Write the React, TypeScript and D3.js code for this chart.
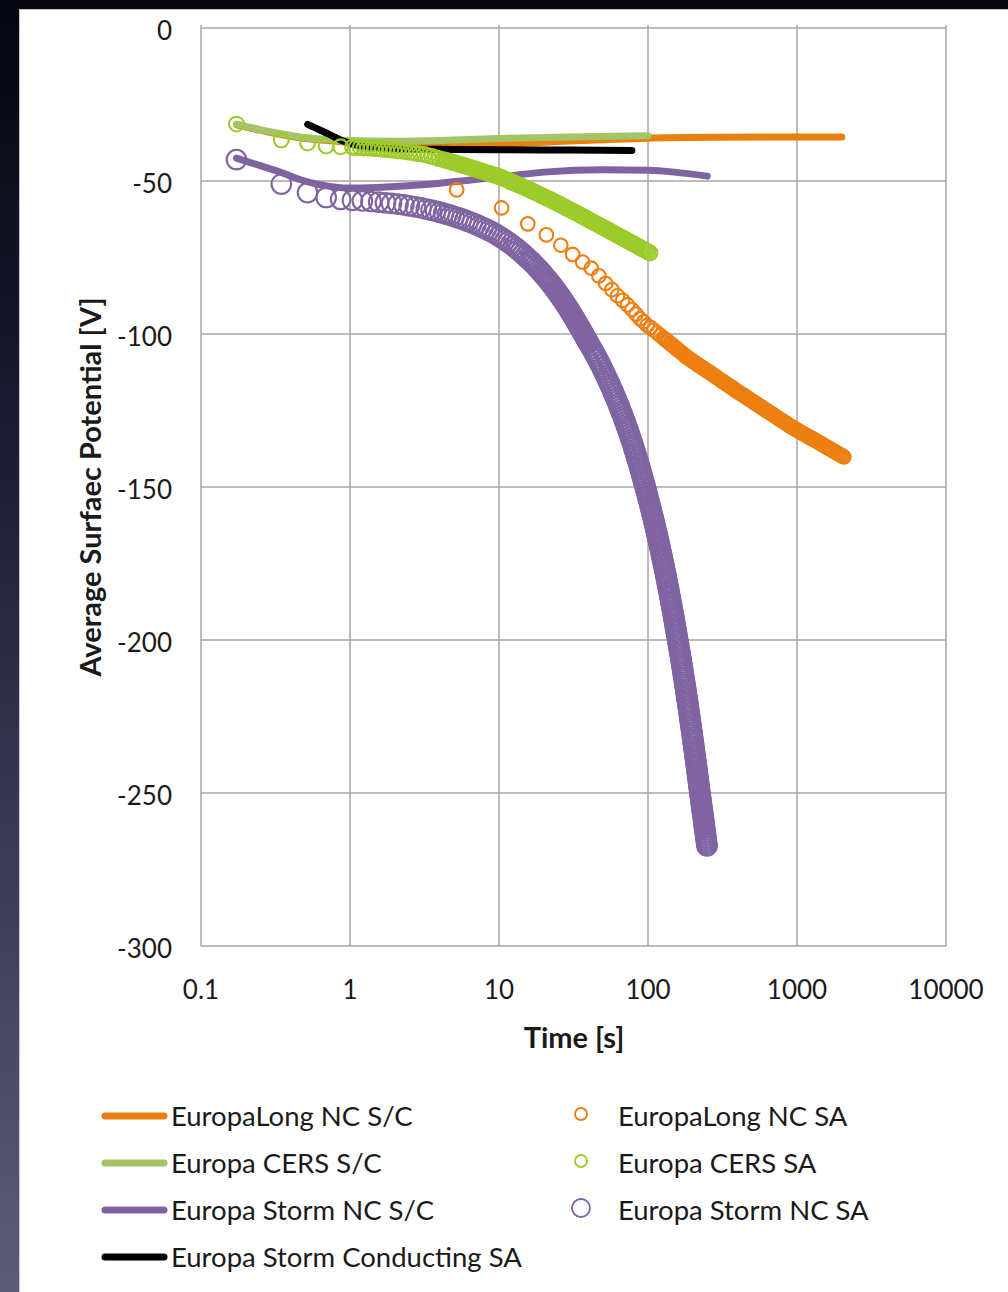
import React from 'react';
import * as d3 from 'd3';

type P = [number, number];

// ---------- axes ----------
const xTickValues = [0.1, 1, 10, 100, 1000, 10000];
const xTickLabels = ['0.1', '1', '10', '100', '1000', '10000'];
const yTickValues = [0, -50, -100, -150, -200, -250, -300];
const xTitle = 'Time [s]';
const yTitle = 'Average Surfaec Potential [V]';

// ---------- S/C lines ----------
const europaLongSC: P[] = [
  [0.173, -31.6], [0.25, -33.4], [0.35, -34.9], [0.46, -35.9], [0.7, -36.8], [1, -37.4], [2, -38],
  [4, -38.2], [7, -38.1], [10, -37.9], [20, -37.3], [50, -36.5], [100, -36], [300, -35.7],
  [1000, -35.6], [2000, -35.6],
];
const europaCersSC: P[] = [
  [0.173, -31.4], [0.25, -33.2], [0.35, -34.6], [0.46, -35.6], [0.7, -36.4], [1, -36.8],
  [2, -37], [5, -36.6], [10, -36.1], [30, -35.6], [100, -35.2],
];
const europaStormSC: P[] = [
  [0.173, -42.5], [0.25, -45], [0.35, -47.3], [0.46, -49.5], [0.6, -51], [0.8, -52], [1, -52.3],
  [2, -51.8], [4, -50.7], [10, -48.7], [20, -47.1], [50, -46.3], [100, -46.5], [150, -47.1], [250, -48.4],
];
const europaStormConductingSA: P[] = [
  [0.52, -31.5], [0.7, -34.4], [0.9, -36.9], [1.1, -38.3], [1.5, -39.2], [2, -39.5], [5, -39.7],
  [10, -39.8], [30, -39.9], [78, -40],
];

// ---------- SA markers ----------
const europaLongSA: P[] = [
  [5.2, -52.9], [10.4, -58.8], [15.6, -64], [20.8, -67.6], [26, -71], [31.2, -74], [36.4, -76.5],
  [41.6, -78.5], [46.8, -81], [52, -83.5], [57.2, -85.5], [62.4, -87.5], [67.6, -89], [72.8, -90.5],
  [78, -92], [83.2, -93.5], [88.4, -95], [93.6, -96], [98.8, -97.2], [104, -97.9], [109, -98.7],
  [115, -99.6], [121, -100.5], [127, -101.3], [130, -101.7], [133, -102.1], [136.5, -102.55], [140, -103],
  [143.5, -103.4], [147, -103.8], [150.5, -104.2], [154, -104.6], [158, -105.05], [162, -105.5],
  [166, -105.9], [170, -106.3], [174.5, -106.8], [179, -107.3], [183.5, -107.65], [188, -108],
  [192.5, -108.35], [197, -108.7], [202, -109.05], [207, -109.4], [212, -109.75], [217, -110.1],
  [222.5, -110.45], [228, -110.8], [234, -111.15], [240, -111.5], [246, -111.85], [252, -112.2],
  [258.5, -112.55], [265, -112.9], [271.5, -113.25], [278, -113.6], [285, -113.95], [292, -114.3],
  [299.5, -114.7], [307, -115.1], [314.5, -115.4], [322, -115.7], [330, -116.05], [338, -116.4],
  [346.5, -116.75], [355, -117.1], [364, -117.45], [373, -117.8], [382.5, -118.2], [392, -118.6],
  [402, -118.95], [412, -119.3], [422.5, -119.6], [433, -119.9], [444, -120.25], [455, -120.6],
  [466.5, -120.95], [478, -121.3], [490, -121.65], [502, -122], [514.5, -122.35], [527, -122.7],
  [540, -123], [553, -123.3], [567, -123.65], [581, -124], [595.5, -124.35], [610, -124.7],
  [625, -125.05], [640, -125.4], [656, -125.7], [672, -126], [689, -126.35], [706, -126.7],
  [723.5, -127.05], [741, -127.4], [759.5, -127.75], [778, -128.1], [797.5, -128.4], [817, -128.7],
  [837.5, -129.05], [858, -129.4], [879, -129.75], [900, -130.1], [922.5, -130.4], [945, -130.7],
  [968.5, -131], [992, -131.3], [1017, -131.6], [1042, -131.9], [1068, -132.2], [1094, -132.5],
  [1121.5, -132.8], [1149, -133.1], [1177.5, -133.4], [1206, -133.7], [1236, -133.95], [1266, -134.2],
  [1298, -134.5], [1330, -134.8], [1363, -135.1], [1396, -135.4], [1431, -135.7], [1466, -136],
  [1502, -136.3], [1539, -136.6], [1577, -136.9], [1616, -137.2], [1656, -137.5], [1697, -137.8],
  [1739, -138.1], [1782, -138.4], [1826, -138.7], [1871, -139], [1918, -139.3], [1965, -139.6],
  [2014, -139.9], [2063, -140.2],
];

const europaCersSA: P[] = [
  [0.173, -31.4], [0.346, -36.6], [0.519, -37.6], [0.692, -38.6], [0.865, -38.8],
  [1.04, -39], [1.1, -39.05], [1.17, -39.1], [1.24, -39.2], [1.31, -39.25], [1.39, -39.3], [1.47, -39.4],
  [1.56, -39.5], [1.66, -39.6], [1.76, -39.7], [1.87, -39.85], [1.98, -40], [2.1, -40.1], [2.22, -40.25],
  [2.35, -40.4], [2.5, -40.6], [2.65, -40.8], [2.8, -41], [2.97, -41.15], [3.15, -41.35], [3.34, -41.7],
  [3.54, -42], [3.75, -42.35], [3.97, -42.7], [4.2, -43], [4.33, -43.18], [4.46, -43.35], [4.6, -43.53],
  [4.73, -43.7], [4.86, -43.85], [5, -44], [5.15, -44.2], [5.3, -44.4], [5.46, -44.58], [5.62, -44.75],
  [5.79, -44.93], [5.96, -45.1], [6.14, -45.3], [6.32, -45.5], [6.51, -45.7], [6.7, -45.9], [6.9, -46.1],
  [7.1, -46.3], [7.3, -46.48], [7.5, -46.65], [7.73, -46.85], [7.97, -47.05], [8.21, -47.25],
  [8.45, -47.45], [8.7, -47.65], [8.95, -47.85], [9.22, -48.03], [9.5, -48.2], [9.75, -48.4], [10, -48.6],
  [10.3, -48.85], [10.6, -49.1], [10.92, -49.35], [11.25, -49.6], [11.57, -49.88], [11.9, -50.15],
  [12.25, -50.4], [12.6, -50.65], [13, -50.93], [13.4, -51.2], [13.8, -51.48], [14.2, -51.75],
  [14.6, -52], [15, -52.25], [15.45, -52.53], [15.9, -52.8], [16.4, -53.1], [16.9, -53.4],
  [17.4, -53.68], [17.9, -53.95], [18.45, -54.28], [19, -54.6], [19.55, -54.88], [20.1, -55.15],
  [20.7, -55.45], [21.3, -55.75], [21.95, -56.05], [22.6, -56.35], [23.3, -56.68], [24, -57],
  [24.7, -57.3], [25.4, -57.6], [26.15, -57.9], [26.9, -58.2], [27.7, -58.55], [28.5, -58.9],
  [29.35, -59.2], [30.2, -59.5], [31.1, -59.83], [32, -60.15], [33, -60.48], [34, -60.8], [35, -61.13],
  [36, -61.45], [37.1, -61.78], [38.2, -62.1], [39.35, -62.45], [40.5, -62.8], [41.7, -63.13],
  [42.9, -63.45], [44.2, -63.78], [45.5, -64.1], [46.85, -64.45], [48.2, -64.8], [49.65, -65.13],
  [51.1, -65.45], [52.65, -65.78], [54.2, -66.1], [55.8, -66.45], [57.4, -66.8], [59.15, -67.13],
  [60.9, -67.45], [62.7, -67.78], [64.5, -68.1], [66.45, -68.45], [68.4, -68.8], [70.45, -69.13],
  [72.5, -69.45], [74.7, -69.8], [76.9, -70.15], [79.2, -70.48], [81.5, -70.8], [83.9, -71.15],
  [86.3, -71.5], [88.9, -71.83], [91.5, -72.15], [94.2, -72.48], [97, -72.8], [100, -73.15], [103, -73.5],
];

const europaStormSA: P[] = [
  [0.173, -43], [0.346, -51], [0.519, -53.8], [0.692, -55.4], [0.865, -56], [1.038, -56.3],
  [1.211, -56.5], [1.384, -56.7], [1.557, -56.9], [1.73, -57.1], [1.9, -57.3], [2.1, -57.55], [2.3, -57.8],
  [2.5, -58.1], [2.75, -58.45], [3, -58.8], [3.25, -59.15], [3.5, -59.5], [3.75, -59.85], [4, -60.2],
  [4.25, -60.55], [4.5, -60.9], [4.75, -61.25], [5, -61.6], [5.3, -62], [5.6, -62.4], [5.9, -62.8],
  [6.2, -63.2], [6.6, -63.7], [7, -64.2], [7.4, -64.7], [7.8, -65.2], [8.2, -65.7], [8.6, -66.2],
  [9, -66.7], [9.5, -67.35], [10, -68], [10.5, -68.65], [11, -69.3], [11.5, -69.95], [12, -70.6],
  [12.5, -71.25], [13, -71.9], [13.5, -72.55], [14, -73.2], [14.5, -73.85], [15, -74.5], [15.5, -75.15],
  [16, -75.8], [16.5, -76.4], [17, -77], [17.5, -77.65], [18, -78.3], [18.5, -78.9], [19, -79.5],
  [19.5, -80.15], [20, -80.8], [20.5, -81.4], [21, -82], [21.5, -82.6], [22, -83.2], [22.5, -83.8],
  [23, -84.4], [23.5, -85], [24, -85.6], [24.5, -86.2], [25, -86.8], [25.5, -87.4], [26, -88],
  [26.5, -88.55], [27, -89.1], [27.5, -89.7], [28, -90.3], [28.5, -90.85], [29, -91.4], [29.5, -92],
  [30, -92.6], [30.5, -93.15], [31, -93.7], [31.5, -94.25], [32, -94.8], [32.5, -95.35], [33, -95.9],
  [33.5, -96.45], [34, -97], [34.5, -97.5], [35, -98], [35.5, -98.55], [36, -99.1], [36.5, -99.6],
  [37, -100.1], [37.5, -100.6], [38, -101.1], [38.5, -101.6], [39, -102.1], [39.5, -102.55],
  [40, -103], [41, -103.9], [42, -104.8], [43, -105.65], [44, -106.5], [45, -107.4], [46, -108.3],
  [47, -109.15], [48, -110], [49, -110.9], [50, -111.8], [51, -112.65], [52, -113.5], [53, -114.35],
  [54, -115.2], [55, -116.05], [56, -116.9], [57, -117.75], [58, -118.6], [59, -119.45], [60, -120.3],
  [61, -121.15], [62, -122], [63, -122.8], [64, -123.6], [65, -124.45], [66, -125.3], [67, -126.1],
  [68, -126.9], [69, -127.75], [70, -128.6], [71, -129.45], [72, -130.3], [73, -131.1], [74, -131.9],
  [75, -132.75], [76, -133.6], [77, -134.4], [78, -135.2], [79, -136.05], [80, -136.9], [81, -137.75],
  [82, -138.6], [83, -139.4], [84, -140.2], [85, -141.05], [86, -141.9], [87, -142.7], [88, -143.5],
  [89, -144.35], [90, -145.2], [91, -146.05], [92, -146.9], [93, -147.7], [94, -148.5], [95, -149.35],
  [96, -150.2], [97, -151], [98, -151.8], [99, -152.65], [100, -153.5], [101, -154.3], [102, -155.1],
  [103, -155.9], [104, -156.7], [105, -157.5], [106, -158.3], [107, -159.1], [108, -159.9], [109, -160.7],
  [110, -161.5], [111, -162.3], [112, -163.1], [113, -163.9], [114, -164.7], [115, -165.5], [116, -166.3],
  [117, -167.1], [118, -167.9], [119, -168.7], [120, -169.5], [121, -170.3], [122, -171.1], [123, -171.9],
  [124, -172.7], [125, -173.5], [126, -174.3], [127, -175.1], [128, -175.9], [129, -176.7], [130, -177.5],
  [131, -178.3], [132, -179.1], [133, -179.9], [134, -180.7], [135, -181.5], [136, -182.3], [137, -183.1],
  [138, -183.9], [139, -184.7], [140, -185.5], [141, -186.3], [142, -187.1], [143, -187.9], [144, -188.7],
  [145, -189.5], [146, -190.3], [147, -191.1], [148, -191.9], [149, -192.7], [150, -193.5], [151, -194.3],
  [152, -195.1], [153, -195.9], [154, -196.7], [155, -197.45], [156, -198.2], [157, -199], [158, -199.8],
  [159, -200.55], [160, -201.3], [161, -202.1], [162, -202.9], [163, -203.65], [164, -204.4], [165, -205.2],
  [166, -206], [167, -206.75], [168, -207.5], [169, -208.3], [170, -209.1], [171, -209.9], [172, -210.7],
  [173, -211.45], [174, -212.2], [175, -213], [176, -213.8], [177, -214.55], [178, -215.3], [179, -216.1],
  [180, -216.9], [181, -217.7], [182, -218.5], [183, -219.25], [184, -220], [185, -220.8], [186, -221.6],
  [187, -222.35], [188, -223.1], [189, -223.9], [190, -224.7], [191, -225.5], [192, -226.3], [193, -227.05],
  [194, -227.8], [195, -228.6], [196, -229.4], [197, -230.15], [198, -230.9], [199, -231.7], [200, -232.5],
  [201, -233.25], [202, -234], [203, -234.8], [204, -235.6], [205, -236.35], [206, -237.1], [207, -237.9],
  [208, -238.7], [209, -239.45], [210, -240.2], [211, -240.95], [212, -241.7], [213, -242.45], [214, -243.2],
  [215, -243.95], [216, -244.7], [217, -245.45], [218, -246.2], [219, -246.95], [220, -247.7],
  [221, -248.45], [222, -249.2], [223, -249.9], [224, -250.6], [225, -251.3], [226, -252], [227, -252.7],
  [228, -253.4], [229, -254.1], [230, -254.8], [231, -255.45], [232, -256.1], [233, -256.8], [234, -257.5],
  [235, -258.15], [236, -258.8], [237, -259.5], [238, -260.2], [239, -260.85], [240, -261.5],
  [241, -262.15], [242, -262.8], [243, -263.45], [244, -264.1], [245, -264.75], [246, -265.4],
  [247, -266.05], [248, -266.7], [249, -267.3],
];

// ---------- series styling ----------
const lineSeries = [
  { name: 'EuropaLong NC S/C', data: europaLongSC, color: '#E97F0C' },
  { name: 'Europa CERS S/C', data: europaCersSC, color: '#A5C468' },
  { name: 'Europa Storm NC S/C', data: europaStormSC, color: '#7F63A0' },
  { name: 'Europa Storm Conducting SA', data: europaStormConductingSA, color: '#000000' },
];
const markerSeries = [
  { name: 'EuropaLong NC SA', data: europaLongSA, color: '#EE7F12', r: 6.8, lr: 6 },
  { name: 'Europa CERS SA', data: europaCersSA, color: '#9DCB2A', r: 7.4, lr: 6 },
  { name: 'Europa Storm NC SA', data: europaStormSA, color: '#8064A2', r: 9.8, lr: 9 },
];

const FONT = "Lato, 'Open Sans', 'DejaVu Sans', sans-serif";

export default function App() {
  const W = 1008;
  const H = 1292;
  const x = d3.scaleLog().domain([0.1, 10000]).range([201, 946]);
  const y = d3.scaleLinear().domain([-300, 0]).range([946, 28]);
  const line = d3
    .line<P>()
    .x((d) => x(d[0]))
    .y((d) => y(d[1]))
    .curve(d3.curveMonotoneX);

  const legendRowsY = [1116, 1163, 1210, 1257];

  return (
    <svg
      width={W}
      height={H}
      viewBox={`0 0 ${W} ${H}`}
      style={{ position: 'absolute', left: 0, top: 0, display: 'block' }}
    >
      <defs>
        <linearGradient id="sideGrad" x1="0" y1="0" x2="0" y2="1">
          <stop offset="0" stopColor="#05050f" />
          <stop offset="0.35" stopColor="#1c1c34" />
          <stop offset="1" stopColor="#5c5c7a" />
        </linearGradient>
      </defs>
      <rect x={0} y={0} width={W} height={H} fill="#ffffff" />
      <rect x={0} y={0} width={19} height={H} fill="url(#sideGrad)" />
      <rect x={0} y={0} width={W} height={9} fill="#05050f" />
      <line x1={19.5} y1={9} x2={19.5} y2={H} stroke="#c8c8cc" strokeWidth={1} />
      <line x1={19} y1={9.5} x2={W} y2={9.5} stroke="#c8c8cc" strokeWidth={1} />

      {/* grid */}
      <g stroke="#a6a6a6" strokeWidth={1.5}>
        {xTickValues.map((t) => (
          <line key={'gx' + t} x1={x(t)} x2={x(t)} y1={y(0) - 3} y2={y(-300)} />
        ))}
        {yTickValues.map((v) => (
          <line key={'gy' + v} x1={x(0.1)} x2={x(10000)} y1={y(v)} y2={y(v)} />
        ))}
      </g>

      {/* tick labels */}
      <g fontFamily={FONT} fontSize={26} fill="#1a1a1a">
        {yTickValues.map((v) => (
          <text key={'ty' + v} x={172} y={y(v) + 12} textAnchor="end">
            {v}
          </text>
        ))}
        {xTickValues.map((t, i) => (
          <text key={'tx' + t} x={x(t)} y={999} textAnchor="middle">
            {xTickLabels[i]}
          </text>
        ))}
      </g>

      {/* axis titles */}
      <text
        x={574}
        y={1048}
        textAnchor="middle"
        fontFamily={FONT}
        fontSize={29}
        fontWeight="bold"
        fill="#1a1a1a"
      >
        {xTitle}
      </text>
      <text
        transform={`translate(101, 487) rotate(-90)`}
        textAnchor="middle"
        fontFamily={FONT}
        fontSize={29}
        fontWeight="bold"
        fill="#1a1a1a"
      >
        {yTitle}
      </text>

      {/* lines */}
      {lineSeries.map((s) => (
        <path
          key={s.name}
          d={line(s.data) || ''}
          fill="none"
          stroke={s.color}
          strokeWidth={7}
          strokeLinecap="round"
          strokeLinejoin="round"
        />
      ))}

      {/* markers */}
      {markerSeries.map((s) => (
        <g key={s.name} fill="none" stroke={s.color} strokeWidth={2.1}>
          {s.data.map((d, i) => (
            <circle key={i} cx={x(d[0])} cy={y(d[1])} r={s.r} />
          ))}
        </g>
      ))}

      {/* legend */}
      <g fontFamily={FONT} fontSize={27.5} fill="#1a1a1a">
        {lineSeries.map((s, i) => (
          <g key={'lg' + s.name}>
            <line
              x1={105}
              x2={164}
              y1={legendRowsY[i]}
              y2={legendRowsY[i]}
              stroke={s.color}
              strokeWidth={7}
              strokeLinecap="round"
            />
            <text x={171} y={legendRowsY[i] + 10}>
              {s.name}
            </text>
          </g>
        ))}
        {markerSeries.map((s, i) => (
          <g key={'lm' + s.name}>
            <circle
              cx={581}
              cy={legendRowsY[i] - 2}
              r={s.lr}
              fill="none"
              stroke={s.color}
              strokeWidth={1.8}
            />
            <text x={618} y={legendRowsY[i] + 10}>
              {s.name}
            </text>
          </g>
        ))}
      </g>
    </svg>
  );
}
